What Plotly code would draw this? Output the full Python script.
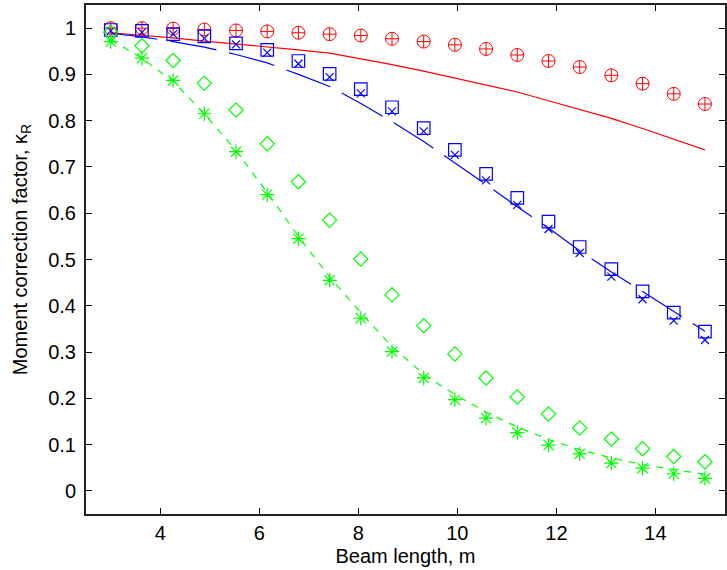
import numpy as np
import plotly.graph_objects as go

# Beam lengths (m): 20 evenly spaced sample points from 3 to 15
beam_length = [3.00, 3.63, 4.26, 4.89, 5.53, 6.16, 6.79, 7.42, 8.05, 8.68,
               9.32, 9.95, 10.58, 11.21, 11.84, 12.47, 13.11, 13.74, 14.37, 15.00]

# Red: circle-plus markers and solid line
red_markers = [1.000, 1.000, 0.999, 0.997, 0.995, 0.993, 0.990, 0.987, 0.984, 0.977,
               0.971, 0.964, 0.955, 0.942, 0.929, 0.916, 0.898, 0.880, 0.858, 0.836]
red_line = [0.990, 0.985, 0.979, 0.972, 0.966, 0.960, 0.953, 0.946, 0.934, 0.921,
            0.907, 0.892, 0.877, 0.862, 0.843, 0.824, 0.805, 0.783, 0.760, 0.737]

# Blue: squares, x marks and long-dashed line
blue_squares = [0.996, 0.994, 0.987, 0.982, 0.967, 0.953, 0.929, 0.901, 0.868, 0.829,
                0.784, 0.737, 0.685, 0.633, 0.582, 0.527, 0.479, 0.431, 0.385, 0.344]
blue_x = [0.994, 0.991, 0.987, 0.978, 0.965, 0.947, 0.923, 0.894, 0.859, 0.820,
          0.777, 0.726, 0.671, 0.618, 0.566, 0.514, 0.463, 0.414, 0.368, 0.326]
blue_line = [0.989, 0.981, 0.971, 0.959, 0.943, 0.925, 0.900, 0.874, 0.837, 0.798,
             0.755, 0.709, 0.662, 0.614, 0.568, 0.519, 0.473, 0.431, 0.388, 0.345]

# Green: diamonds, asterisks and dashed line
green_diamonds = [0.991, 0.962, 0.930, 0.881, 0.823, 0.750, 0.668, 0.585, 0.501, 0.424,
                  0.357, 0.296, 0.244, 0.203, 0.166, 0.136, 0.112, 0.091, 0.074, 0.063]
green_stars = [0.971, 0.935, 0.887, 0.815, 0.733, 0.640, 0.545, 0.455, 0.373, 0.301,
               0.244, 0.197, 0.157, 0.126, 0.099, 0.080, 0.060, 0.049, 0.037, 0.027]
green_line = [0.975, 0.935, 0.885, 0.815, 0.735, 0.645, 0.550, 0.462, 0.385, 0.312,
              0.252, 0.208, 0.170, 0.138, 0.111, 0.089, 0.071, 0.057, 0.046, 0.036]

x_ticks = [4, 6, 8, 10, 12, 14]
y_ticks = [0, 0.1, 0.2, 0.3, 0.4, 0.5, 0.6, 0.7, 0.8, 0.9, 1]
y_tick_text = ["0", "0.1", "0.2", "0.3", "0.4", "0.5", "0.6", "0.7", "0.8", "0.9", "1"]

x_title = "Beam length, m"
y_title = "Moment correction factor, κ<sub>R</sub>"

RED = "rgb(255,0,0)"
BLUE = "rgb(0,0,255)"
GREEN = "rgb(0,255,0)"

fig = go.Figure()

# lines
fig.add_trace(go.Scatter(x=beam_length, y=red_line, mode="lines",
                         line=dict(color=RED, width=1.2), showlegend=False))
fig.add_trace(go.Scatter(x=beam_length, y=blue_line, mode="lines",
                         line=dict(color=BLUE, width=1.2, dash="47px,13px"), showlegend=False))
fig.add_trace(go.Scatter(x=beam_length, y=green_line, mode="lines",
                         line=dict(color=GREEN, width=1.2, dash="7px,7px"), showlegend=False))

# markers
fig.add_trace(go.Scatter(x=beam_length, y=red_markers, mode="markers",
                         marker=dict(symbol="circle-cross-open", size=13, color=RED,
                                     line=dict(color=RED, width=1)), showlegend=False))
fig.add_trace(go.Scatter(x=beam_length, y=blue_squares, mode="markers",
                         marker=dict(symbol="square-open", size=12.5, color=BLUE,
                                     line=dict(color=BLUE, width=1.2)), showlegend=False))
fig.add_trace(go.Scatter(x=beam_length, y=blue_x, mode="markers",
                         marker=dict(symbol="x-thin-open", size=8, color=BLUE,
                                     line=dict(color=BLUE, width=1.2)), showlegend=False))
fig.add_trace(go.Scatter(x=beam_length, y=green_diamonds, mode="markers",
                         marker=dict(symbol="diamond-open", size=11, color=GREEN,
                                     line=dict(color=GREEN, width=1.2)), showlegend=False))
fig.add_trace(go.Scatter(x=beam_length, y=green_stars, mode="markers",
                         marker=dict(symbol="asterisk-open", size=12, color=GREEN,
                                     line=dict(color=GREEN, width=1.2)), showlegend=False))

FONT = "Liberation Sans, Arial, Helvetica, sans-serif"
FS = 20

fig.update_layout(
    width=727, height=570,
    margin=dict(l=86, r=0, t=5, b=56),
    paper_bgcolor="white", plot_bgcolor="white",
    font=dict(family=FONT, size=FS, color="black"),
    xaxis=dict(range=[2.5, 15.405], tickvals=x_ticks, ticktext=[str(v) for v in x_ticks],
               ticks="inside", ticklen=6, tickwidth=1, tickcolor="black",
               showline=True, linecolor="#222222", linewidth=2, mirror="ticks",
               showgrid=False, zeroline=False,
               tickfont=dict(size=FS),
               title=dict(text=x_title, font=dict(size=FS), standoff=6)),
    yaxis=dict(range=[-0.05, 1.05], tickvals=y_ticks, ticktext=y_tick_text,
               ticks="inside", ticklen=6, tickwidth=1, tickcolor="black",
               showline=True, linecolor="#222222", linewidth=2, mirror="ticks",
               showgrid=False, zeroline=False, ticklabelstandoff=4,
               tickfont=dict(size=FS)),
    annotations=[dict(text=y_title, xref="paper", yref="paper",
                      x=(21 - 86) / 641, y=(514 - 250) / 509,
                      xanchor="center", yanchor="middle", textangle=-90,
                      showarrow=False, font=dict(size=FS, family=FONT, color="black"))],
)

fig.write_html("out.html")
